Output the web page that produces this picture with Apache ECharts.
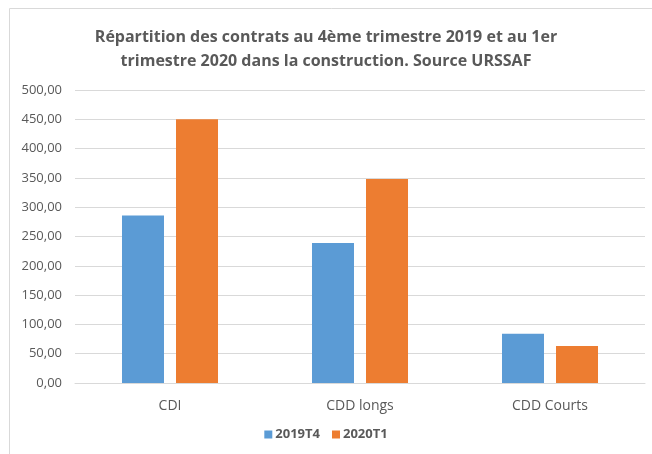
<!DOCTYPE html>
<html><head><meta charset="utf-8">
<script src="https://cdn.jsdelivr.net/npm/echarts@6/dist/echarts.min.js"></script>
<style>html,body{margin:0;padding:0;background:#fff}#c{width:652px;height:454px}</style>
</head><body><div id="c"></div>
<script>
const categories = ['CDI', 'CDD longs', 'CDD Courts'];
const series2019T4 = [286, 239, 84];
const series2020T1 = [450, 348, 63];
const seriesNames = ['2019T4', '2020T1'];
const titleText = 'Répartition des contrats au 4ème trimestre 2019 et au 1er\ntrimestre 2020 dans la construction. Source URSSAF';

const chart = echarts.init(document.getElementById('c'), null, {renderer: 'canvas'});
const fam = '"Open Sans", "Noto Sans", sans-serif';
chart.setOption({
  animation: false,
  graphic: [{type: 'rect', shape: {x: 9.5, y: 8.5, width: 700, height: 500}, style: {fill: 'none', stroke: '#d9d9d9', lineWidth: 1}, z: -1}],
  title: {
    text: titleText, left: 'center', top: 20,
    textStyle: {fontFamily: fam, fontSize: 16, fontWeight: 'bold', color: '#595959', lineHeight: 24}
  },
  legend: {
    data: seriesNames, bottom: 8, left: 'center', itemWidth: 8, itemHeight: 8, itemGap: 12, icon: 'rect',
    textStyle: {fontFamily: fam, fontSize: 13, fontWeight: 'bold', color: '#595959', padding: [0, 0, 0, -2]}
  },
  grid: {left: 75, right: 7, top: 90, bottom: 71, containLabel: false},
  xAxis: {
    type: 'category', data: categories,
    axisLine: {lineStyle: {color: '#d9d9d9'}}, axisTick: {show: false},
    axisLabel: {fontFamily: fam, fontSize: 14, color: '#595959', margin: 16}
  },
  yAxis: {
    type: 'value', min: 0, max: 500, interval: 50,
    axisLine: {show: false}, axisTick: {show: false},
    splitLine: {lineStyle: {color: '#d9d9d9'}},
    axisLabel: {fontFamily: fam, fontSize: 13, color: '#595959', margin: 13,
      formatter: v => v.toFixed(2).replace('.', ',')}
  },
  series: [
    {name: seriesNames[0], type: 'bar', data: series2019T4, barWidth: 42, barGap: '28.6%', itemStyle: {color: '#5b9bd5'}},
    {name: seriesNames[1], type: 'bar', data: series2020T1, barWidth: 42, itemStyle: {color: '#ed7d31'}}
  ]
});
</script></body></html>
